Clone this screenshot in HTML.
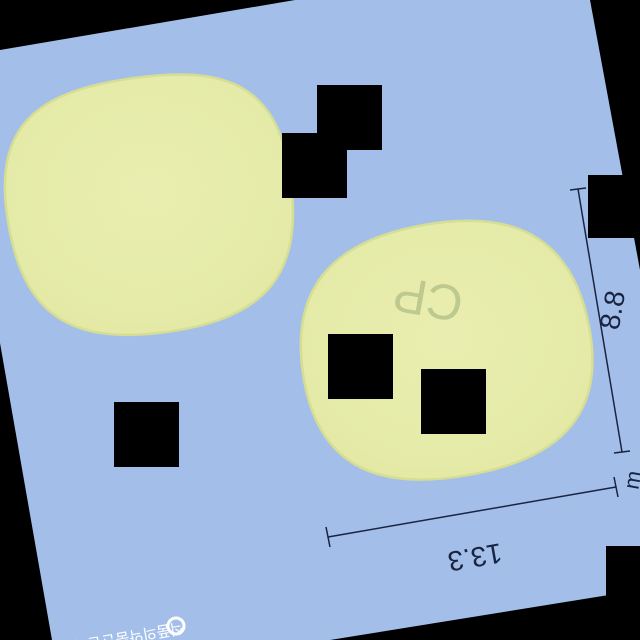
<!DOCTYPE html>
<html><head><meta charset="utf-8"><style>
html,body{margin:0;padding:0;background:#000;width:640px;height:640px;overflow:hidden}
</style></head><body>
<svg width="640" height="640" viewBox="0 0 640 640">
<defs>
<radialGradient id="pg" cx="50%" cy="45%" r="65%">
<stop offset="0%" stop-color="#e9eeb0"/><stop offset="85%" stop-color="#e4eaa6"/><stop offset="100%" stop-color="#d9e196"/>
</radialGradient>
</defs>
<rect width="640" height="640" fill="#000"/>
<polygon points="0,50 295,0 590,0 640,270 640,590 330,640 52,640 0,343" fill="#a3bfe9"/>
<g transform="translate(150,205) rotate(-8)">
<path d="M-143,-10 C-143,-105 -90,-128 0,-128 C90,-128 143,-105 143,-10 C143,90 100,128 0,128 C-100,128 -143,90 -143,-10 Z" fill="url(#pg)" stroke="#d6de93" stroke-width="2.5"/>
</g>
<g transform="translate(446,350) rotate(-10)">
<path d="M-145,5 C-145,-95 -85,-127 0,-127 C85,-127 145,-95 145,5 C145,98 85,127 0,127 C-85,127 -145,98 -145,5 Z" fill="url(#pg)" stroke="#d6de93" stroke-width="2.5"/>
</g>
<text x="428" y="318" transform="rotate(190 428 300)" font-family="Liberation Sans, sans-serif" font-size="50" fill="#bec98f" text-anchor="middle">CP</text>
<g fill="#000">
<rect x="317" y="85" width="65" height="65"/>
<rect x="282" y="133" width="65" height="65"/>
<rect x="328" y="334" width="65" height="65"/>
<rect x="421" y="369" width="65" height="65"/>
<rect x="114" y="402" width="65" height="65"/>
<rect x="588" y="175" width="52" height="63"/>
<rect x="606" y="546" width="34" height="94"/>
</g>
<g stroke="#1a2440" stroke-width="1.5">
<line x1="328" y1="537" x2="616" y2="487"/>
<line x1="326" y1="527" x2="330" y2="547"/>
<line x1="614" y1="477" x2="618" y2="497"/>
</g>
<text x="472" y="532" transform="rotate(170 472 540)" font-family="Liberation Sans, sans-serif" font-size="28" fill="#1a2440" text-anchor="middle">13.3</text>
<g stroke="#1a2440" stroke-width="1.5">
<line x1="578" y1="189" x2="622" y2="452"/>
<line x1="570" y1="190" x2="586" y2="188"/>
<line x1="614" y1="453" x2="630" y2="451"/>
</g>
<text x="612" y="320" transform="rotate(-80 612 310)" font-family="Liberation Sans, sans-serif" font-size="28" fill="#1a2440" text-anchor="middle">8.8</text>
<text x="633" y="487" transform="rotate(-80 633 480)" font-family="Liberation Sans, sans-serif" font-size="22" fill="#1a2440" text-anchor="middle">m</text>
<text x="128" y="628" transform="rotate(170 128 630)" font-family="Liberation Sans, 'Noto Sans CJK KR', sans-serif" font-size="15" fill="#ffffff" text-anchor="middle">식품의약품안전처</text>
<circle cx="176" cy="626" r="8" fill="none" stroke="#ffffff" stroke-width="3"/>
</svg>
</body></html>
